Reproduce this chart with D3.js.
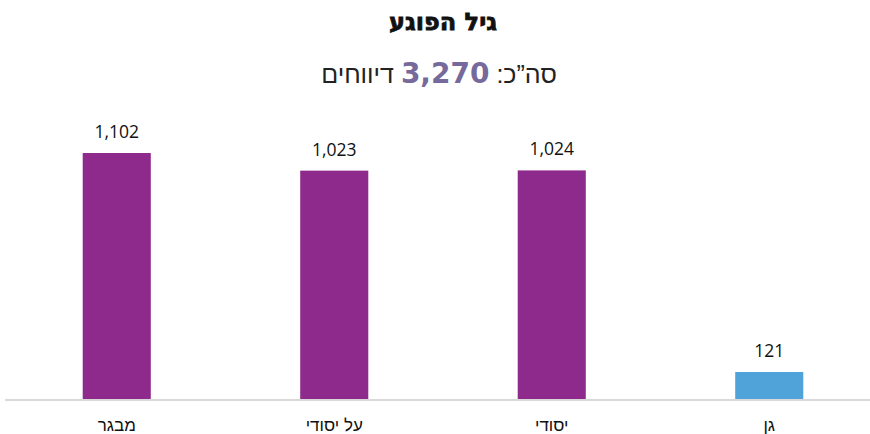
<!DOCTYPE html>
<html><head><meta charset="utf-8">
<script src="https://cdn.jsdelivr.net/npm/d3@7"></script>
<style>body{margin:0;background:#fff}svg{display:block}</style>
</head><body>
<svg id="c" width="870" height="434"></svg>
<script>
const categories = ["מבגר", "על יסודי", "יסודי", "גן"];
const values = [1102, 1023, 1024, 121];
const barColors = ["#8e2a8b", "#8e2a8b", "#8e2a8b", "#4fa3d9"];
const titleText = "גיל הפוגע";
const totalPrefix = "סה\u201Dכ: ";
const totalValue = "3,270";
const totalSuffix = " דיווחים";

const svg = d3.select("#c");
const x = d3.scaleBand().domain(categories).range([8, 878]).paddingInner(0.687).paddingOuter(0.3435);
const y = d3.scaleLinear().domain([0, d3.max(values)]).range([399, 153]);

svg.append("line").attr("x1", 5).attr("x2", 870).attr("y1", 400).attr("y2", 400)
  .attr("stroke", "#d9d9d9").attr("stroke-width", 2);

svg.selectAll("rect.bar").data(values).join("rect").attr("class", "bar")
  .attr("x", (d, i) => x(categories[i])).attr("width", x.bandwidth())
  .attr("y", d => y(d)).attr("height", d => y(0) - y(d))
  .attr("fill", (d, i) => barColors[i]);

svg.selectAll("text.val").data(values).join("text").attr("class", "val")
  .attr("x", (d, i) => x(categories[i]) + x.bandwidth() / 2)
  .attr("y", d => y(d) - 15)
  .attr("text-anchor", "middle")
  .attr("font-family", "'Open Sans', 'Noto Sans', sans-serif").attr("font-size", 17.5).attr("fill", "#111")
  .text(d => d3.format(",")(d));

svg.selectAll("text.cat").data(categories).join("text").attr("class", "cat")
  .attr("x", d => x(d) + x.bandwidth() / 2).attr("y", 431)
  .attr("text-anchor", "middle").attr("direction", "rtl")
  .attr("font-family", "'Liberation Sans Narrow', 'Liberation Sans', sans-serif").attr("font-size", 17).attr("fill", "#111")
  .text(d => d);

svg.append("text").attr("x", 443).attr("y", 30).attr("text-anchor", "middle").attr("direction", "rtl")
  .attr("font-family", "'DejaVu Sans', sans-serif").attr("font-weight", "bold").attr("font-size", 24)
  .attr("fill", "#111").attr("stroke", "#111").attr("stroke-width", 0.8)
  .text(titleText);

const sub = svg.append("text").attr("x", 439).attr("y", 83).attr("text-anchor", "middle").attr("direction", "rtl")
  .attr("font-family", "'Liberation Sans', sans-serif").attr("font-size", 25).attr("fill", "#222");
sub.append("tspan").text(totalPrefix);
sub.append("tspan").attr("font-family", "'DejaVu Sans', sans-serif").attr("font-weight", "bold").attr("font-size", 28).attr("fill", "#76699b").text(totalValue);
sub.append("tspan").text(totalSuffix);
</script>
</body></html>
